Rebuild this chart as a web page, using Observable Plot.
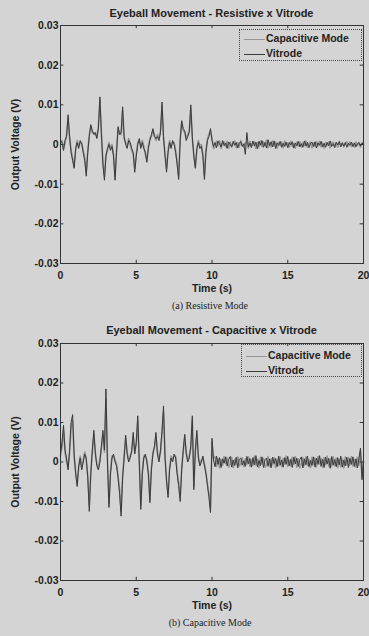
<!DOCTYPE html>
<html>
<head>
<meta charset="utf-8">
<script src="https://cdn.jsdelivr.net/npm/d3@7"></script>
<script src="https://cdn.jsdelivr.net/npm/@observablehq/plot@0.6"></script>
<style>
  html, body { margin: 0; padding: 0; background: #d4d4d4; }
  #root { position: relative; width: 369px; height: 636px; background: #d4d4d4; overflow: hidden;
          font-family: "Liberation Sans", Arial, sans-serif; color: #222; }
  .abs { position: absolute; }
  .title { font-weight: bold; font-size: 11px; line-height: 12px; text-align: center; left: 60px; width: 303px; }
  .caption { font-family: "Liberation Serif", "Times New Roman", serif; font-size: 10px; line-height: 12px; text-align: center; left: 60px; width: 300px; }
  .legend { border: 1px dotted #444; box-sizing: border-box; font-weight: bold; font-size: 10.5px; }
  .row { position: absolute; left: 4px; height: 12px; line-height: 12px; white-space: nowrap; }
  .swatch { display: inline-block; width: 21px; height: 0; vertical-align: middle; margin-right: 1px; }
  svg { position: absolute; left: 0; }
</style>
</head>
<body>
<div id="root"></div>
<script>
// ---------- data (mV; sample step 0.1 s from t = 0) ----------
const dt = 0.1;
const seriesNames = ["Capacitive Mode", "Vitrode"];
const xTicks = [0, 5, 10, 15, 20];
const xTickLabels = ["0", "5", "10", "15", "20"];
const yTicks = [-30, -20, -10, 0, 10, 20, 30];
const yTickLabels = ["-0.03", "-0.02", "-0.01", "0", "0.01", "0.02", "0.03"];
const titles = ["Eyeball Movement - Resistive x Vitrode", "Eyeball Movement - Capacitive x Vitrode"];
const captions = ["(a) Resistive Mode", "(b) Capacitive Mode"];

// (a) Resistive panel
const resCap = [
  0.5,1,-1,0.5,2.5,6.5,1.5,-1.5,-3.5,-5.5,
  -1.5,1,-0.5,0.5,0.5,-1.5,-3.5,-7,-1.5,2.5,
  4.5,3,3,2.5,2,4.5,11,2.5,-4.5,-8,
  -2.5,-1.5,0.5,-1,0,-2.5,-8,-1.5,4,3,
  2.5,8.5,1.5,0.5,-0.5,1.5,0,-1.5,-2.5,-6,
  -2.5,0.5,1,-0.5,1,-0.5,-2.5,-4,-0.5,1.5,
  2,3.5,2.5,1,2.5,1.5,3.5,9.5,1.5,-2.5,
  -6,-1.5,1,-0.5,0.5,0.5,-1.5,-4.5,-8,1.5,
  5.5,3.5,3,1.5,2.5,3.5,9,1.5,-2.5,-5.5,
  -1.5,1,-0.5,0,-2.5,-8,-1.5,1.5,2.5,3.5,
  1.5,-1,
  -0.6,0.8,-0.3,0.9,-1.0,0.4,0.7,-0.5,0.8,-0.9,
  0.6,-0.4,0.3,0.9,-0.8,0.5,-0.6,1.0,-0.2,-0.7,
  0.4,0.6,-0.9,0.8,-0.4,0.3,0.7,-1.0,0.5,-0.6,
  0.9,-0.5,0.6,-0.3,1.1,-0.8,0.4,-0.6,0.9,-0.4,
  0.7,-0.9,0.5,-0.3,0.6,-0.8,0.9,-0.2,0.4,-0.7,
  0.8,-0.5,0.3,-0.9,0.6,-0.4,0.7,-0.6,0.5,-0.3,
  0.9,-0.7,0.2,0.6,-0.8,0.4,-0.5,0.7,-0.3,0.8,
  -0.6,0.4,-0.9,0.5,-0.2,0.7,-0.8,0.3,0.6,-0.5,
  0.4,-0.7,0.8,-0.3,0.5,-0.6,0.2,0.7,-0.4,0.6,
  -0.5,0.3,-0.7,0.6,-0.2,0.4,-0.6,0.5,-0.1
];
const resVit = [
  1,0.5,-1.5,1,2,7.5,2,-2,-4,-6,
  -1,0.5,-1,1,0,-2,-4,-8,-2,2,
  5,3.5,2.5,3,1.5,4,12,3,-5,-9,
  -3,-1,0,-1.5,-0.5,-3,-9,-2,4.5,2.5,
  3,9.5,2,0,-1,1,0.5,-1,-2,-7,
  -3,0,1.5,-1,0.5,-1,-2,-4.5,-1,1,
  2.5,4,2,1.5,2,1,3,10.7,2,-3,
  -7,-2,0.5,-1,1,0,-2,-5,-8.8,1,
  6,4,3.5,1,2,3,10,2,-3,-6,
  -1,0.5,-1,-0.5,-3,-8.8,-2,1,2,4,
  1,-0.5,
  0.5,-0.8,0.9,0.2,-0.6,1.0,-0.3,0.4,-1.0,0.6,
  0.1,-0.7,0.8,-0.2,0.5,-0.9,0.3,0.7,-0.5,0.2,
  -2.5,3.0,-0.6,0.4,-0.8,0.9,-0.4,0.6,-1.1,0.8,
  -0.2,1.0,-0.7,0.5,-0.9,1.2,-0.3,0.7,-0.6,0.9,
  -1.0,0.4,-0.2,0.8,-0.7,0.3,-0.5,0.6,-0.8,0.5,
  -0.1,0.7,-0.9,0.4,-0.3,0.8,-0.6,0.2,-0.7,0.9,
  -0.4,0.5,-0.8,0.3,0.6,-0.5,0.7,-0.9,0.4,-0.2,
  0.8,-0.6,0.3,-0.7,0.5,-0.3,0.9,-0.5,0.2,-0.8,
  0.6,-0.1,0.7,-0.6,0.4,-0.4,0.5,-0.7,0.3,-0.2,
  0.6,-0.5,0.4,-0.6,0.2,0.5,-0.4,0.3,0.1
];

// (b) Capacitive panel
const capCap = [
  1.5,4,8,2.5,0,-1.5,2.5,9,10.5,1.5,
  -2.5,-5.5,-1.5,1.5,-1.5,0.5,2.5,0.5,-3.5,-11,
  -2.5,2.5,7,2.5,-0.5,-1.5,0.5,3.5,7,2.5,
  16,0.5,-10.5,-2.5,1.5,1.5,0.5,-0.5,-3.5,-7,
  -12.5,-3.5,1.5,6,2.5,0.5,1.5,2.5,6.5,2.5,
  4.5,10.5,0.5,-11,-2.5,1.5,1.5,0.5,-2.5,-9.5,
  -1.5,2.5,3.5,6.5,2.5,0.5,2.5,7,12.5,1.5,
  -4.5,-8,-1.5,1.5,0.5,1.5,1.5,-2.5,-5.5,-9,
  -1.5,2.5,6.5,2.5,0.5,1.5,3.5,10.5,-6,2.5,
  7,1.5,-0.5,0.5,1,-0.5,-2.5,-5.5,-8,-11.5,
  5,1,
  1.3,-1.1,0.9,-1.5,0.6,-0.8,1.4,-0.4,1.1,-1.3,
  -0.5,1.2,-1.4,0.7,-0.6,1.3,-1.0,-0.5,1.1,-1.2,
  0.8,-0.6,1.3,-1.1,0.5,-0.9,1.5,-0.8,0.7,-1.4,
  1.2,-0.5,0.9,-1.3,-0.6,1.4,-1.0,0.8,-0.7,1.1,
  -1.4,0.6,-0.9,1.3,-1.2,0.9,-0.5,1.5,-1.1,0.4,
  -1.0,1.2,-0.6,1.4,-1.3,0.7,-1.5,-0.4,1.1,-0.9,
  1.3,-0.8,0.6,-1.4,1.2,-0.6,1.0,-1.2,1.4,-0.5,
  0.9,-1.3,1.1,-0.7,1.5,-1.0,0.8,-1.1,1.3,-0.9,
  1.0,-1.4,0.6,-1.2,0.9,-1.5,1.3,-0.7,1.1,-0.8,
  1.4,-1.0,0.7,-1.3,1.2,-0.8,2.5,-3.5,0.3
];
const capVit = [
  2,5,9.3,3,1,-2,3,10,12,2,
  -3,-6.2,-1,1,-2,0,2,1,-4,-12.5,
  -3,3,8,2,-1,-2,0,4,8,3,
  18.5,0,-11.5,-3,1,2,0,-1,-4,-8,
  -13.7,-4,1,6.8,2,0,1,3,7.5,2,
  5,11.7,0,-12,-3,1,2,0,-3,-10.3,
  -2,2,4,7.5,2,0,3,8,14.2,1,
  -5,-9,-2,1,0,2,1,-3,-6,-10,
  -2,3,7,2,0,1,4,11.7,-7,3,
  8,1,-1,0,1.5,-1,-3,-6,-9,-12.8,
  6,0.5,
  -1.2,1.5,-0.6,1.1,-1.4,0.8,-0.3,1.3,-1.0,0.6,
  1.4,-1.3,0.5,-0.9,1.2,-1.5,0.7,1.0,-0.8,0.3,
  -1.1,1.4,-0.5,0.9,-1.3,1.1,-0.7,1.6,-1.2,0.4,
  -0.9,1.3,-1.4,0.6,1.0,-1.1,0.8,-1.5,1.2,-0.4,
  0.9,-1.2,1.5,-0.8,0.5,-1.3,1.1,-0.6,1.4,-1.0,
  0.7,-1.4,1.2,-0.5,1.0,-1.1,0.6,1.3,-1.5,0.8,
  -0.7,1.5,-1.2,0.4,-0.9,1.3,-1.3,1.0,-0.6,1.6,
  -1.1,0.7,-1.4,1.2,-0.5,0.9,-1.6,1.4,-0.8,0.6,
  -1.2,1.1,-0.7,1.5,-1.3,0.5,-1.0,1.2,-1.4,0.9,
  -0.6,1.3,-1.1,0.8,-1.5,1.0,3.5,-4.5,0.6
];

const colors = { "Capacitive Mode": "#959595", "Vitrode": "#3a3a3a" };

function rows(values, name) {
  return values.map((v, i) => ({ t: i * dt, v, series: name }));
}

const root = document.getElementById("root");

function addDiv(cls, text, top, extra) {
  const d = document.createElement("div");
  d.className = "abs " + cls;
  d.textContent = text;
  d.style.top = top + "px";
  if (extra) Object.assign(d.style, extra);
  root.appendChild(d);
  return d;
}

function addLegend(left, top, width, height, row1, row2) {
  const box = document.createElement("div");
  box.className = "abs legend";
  Object.assign(box.style, { left: left + "px", top: top + "px", width: width + "px", height: height + "px" });
  [[seriesNames[0], row1], [seriesNames[1], row2]].forEach(([name, y]) => {
    const r = document.createElement("div");
    r.className = "row";
    r.style.top = (y - 6) + "px";
    const s = document.createElement("span");
    s.className = "swatch";
    s.style.borderTop = "1px solid " + colors[name];
    r.appendChild(s);
    r.appendChild(document.createTextNode(name));
    box.appendChild(r);
  });
  root.appendChild(box);
}

function panel(capValues, vitValues, top, height) {
  const data = [...rows(capValues, seriesNames[0]), ...rows(vitValues, seriesNames[1])];
  const svg = Plot.plot({
    width: 369,
    height,
    marginLeft: 60,
    marginRight: 6,
    marginTop: 5,
    marginBottom: 29,
    style: { fontFamily: "'Liberation Sans', Arial, sans-serif", fontSize: "10.5px", fontWeight: "bold", background: "transparent", color: "#222", overflow: "visible" },
    x: { domain: [0, 20] },
    y: { domain: [-30, 30] },
    marks: [
      Plot.line(data.filter(d => d.series === seriesNames[0]), { x: "t", y: "v", stroke: colors[seriesNames[0]], strokeWidth: 1.6 }),
      Plot.line(data.filter(d => d.series === seriesNames[1]), { x: "t", y: "v", stroke: colors[seriesNames[1]], strokeWidth: 1 }),
      Plot.ruleX(xTicks, { y1: -30, y2: -29.2, stroke: "#333" }),
      Plot.ruleX(xTicks, { y1: 30, y2: 29.2, stroke: "#333" }),
      Plot.ruleY(yTicks, { x1: 0, x2: 0.22, stroke: "#333" }),
      Plot.ruleY(yTicks, { x1: 20, x2: 19.78, stroke: "#333" }),
      Plot.frame({ stroke: "#333" }),
      Plot.axisX(xTicks, { tickSize: 0, tickPadding: 8, tickFormat: d => xTickLabels[xTicks.indexOf(d)],
        label: "Time (s)", labelAnchor: "center", labelArrow: "none", labelOffset: 28 }),
      Plot.axisY(yTicks, { tickSize: 0, tickPadding: 2, tickFormat: d => yTickLabels[yTicks.indexOf(d)],
        label: "Output Voltage (V)", labelAnchor: "center", labelArrow: "none", labelOffset: 49 })
    ]
  });
  svg.style.top = top + "px";
  root.appendChild(svg);
}

// Panel (a)
addDiv("title", titles[0], 7);
panel(resCap, resVit, 20, 272);
addLegend(239, 29, 123, 32, 8, 23);
addDiv("caption", captions[0], 300);

// Panel (b)
addDiv("title", titles[1], 324);
panel(capCap, capVit, 338, 271);
addLegend(241, 344, 121, 33, 10, 25);
addDiv("caption", captions[1], 617);
</script>
</body>
</html>
